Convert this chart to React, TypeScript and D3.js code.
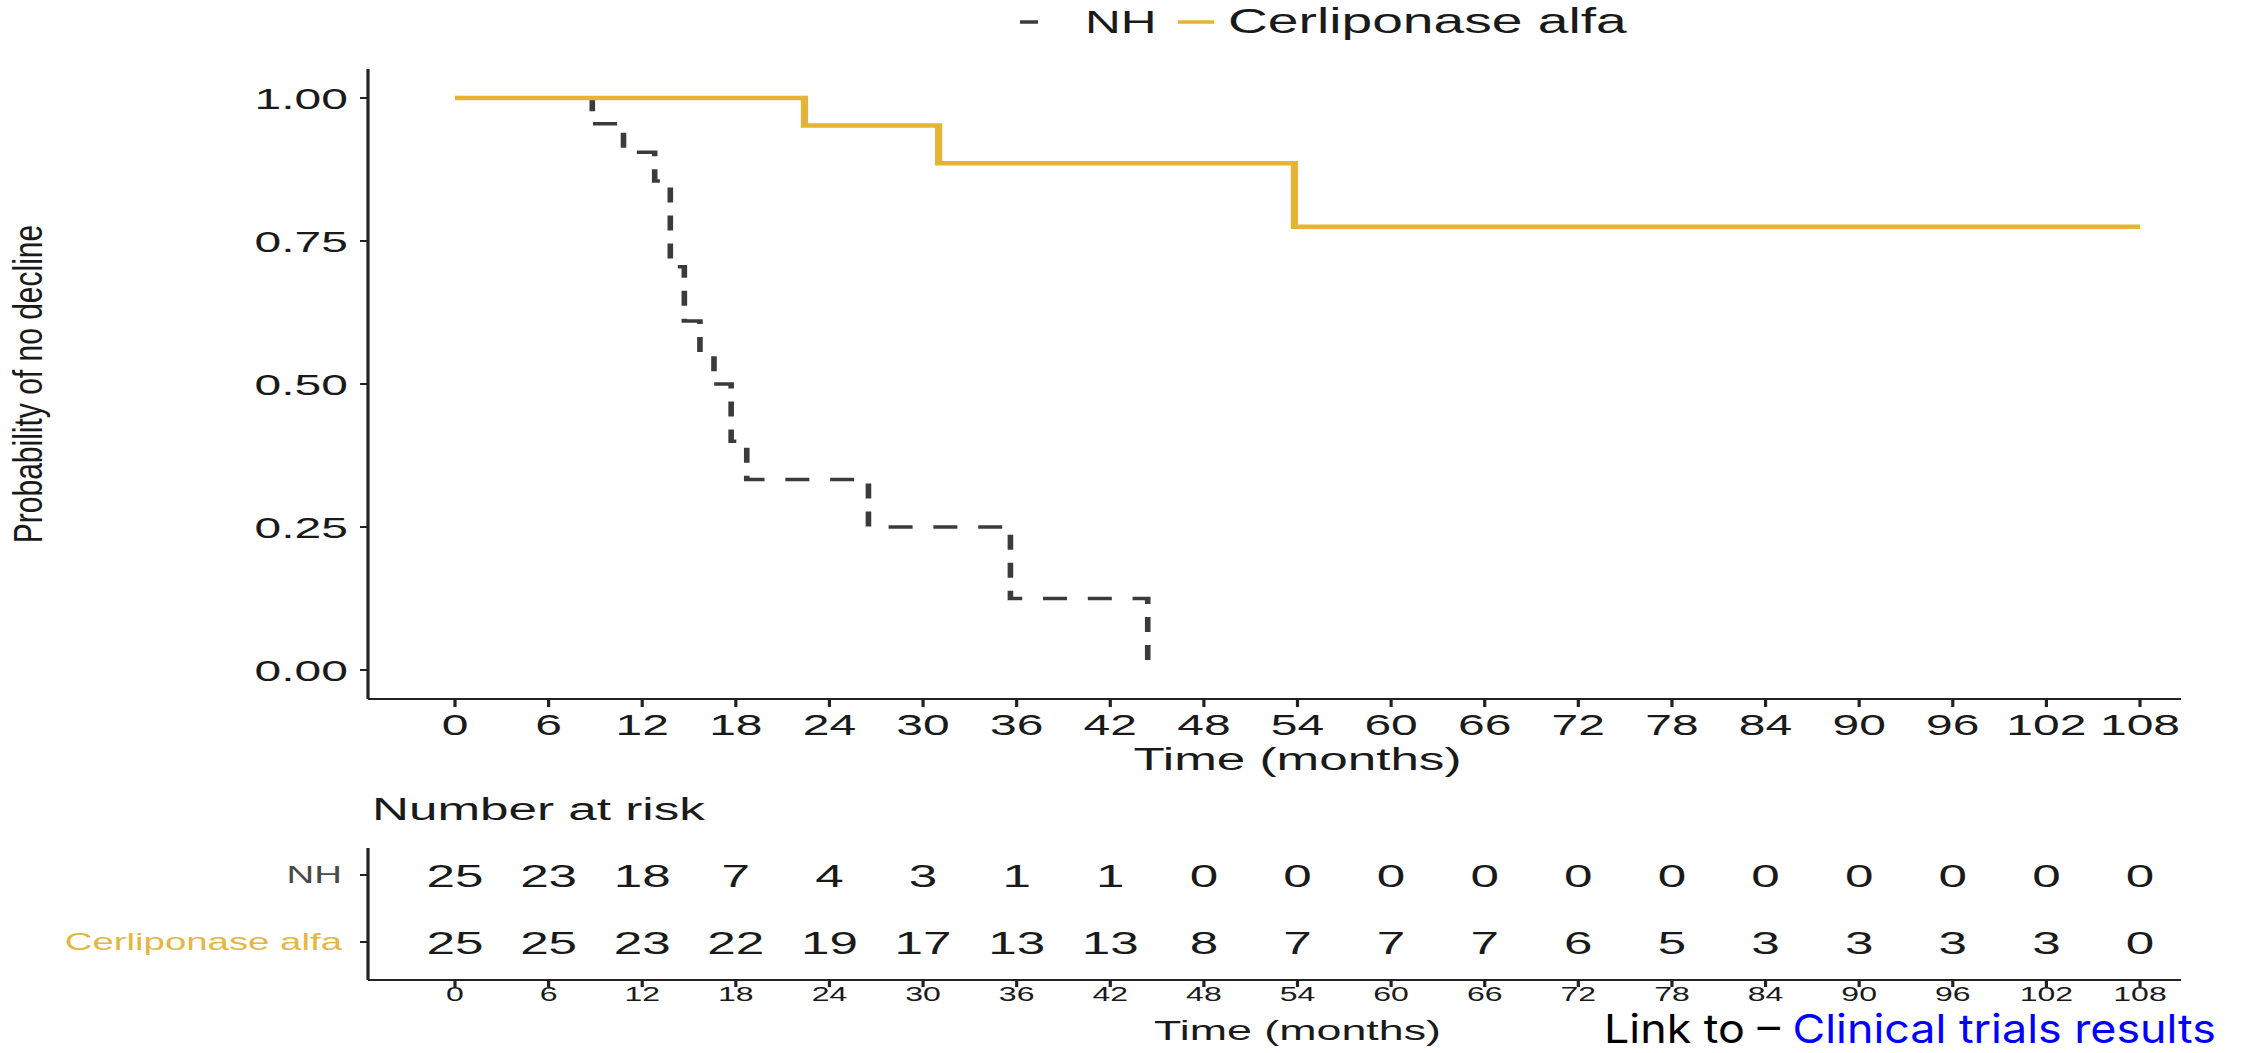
import React from "react";
import * as d3 from "d3";

// whole picture is stretched horizontally, so draw in a narrower space and scale x
const SX = 1.6;
const W = 2264;
const H = 1053;

const groups = ["NH", "Cerliponase alfa"];
const groupColors = ["#3b3b3b", "#E5B336"];

// KM steps: [month, probability]
const nhSteps: [number, number][] = [
  [0, 1], [8.8, 0.955], [10.8, 0.905], [12.8, 0.855], [13.8, 0.705],
  [14.7, 0.61], [15.7, 0.555], [16.6, 0.5], [17.7, 0.4], [18.7, 0.333],
  [26.5, 0.25], [35.6, 0.125], [44.4, 0.0],
];
const cerliSteps: [number, number][] = [
  [0, 1], [22.4, 0.952], [31.0, 0.886], [53.8, 0.775], [108, 0.775],
];

const timeTicks = [0, 6, 12, 18, 24, 30, 36, 42, 48, 54, 60, 66, 72, 78, 84, 90, 96, 102, 108];
const probTicks = [0, 0.25, 0.5, 0.75, 1];
const probLabels = ["0.00", "0.25", "0.50", "0.75", "1.00"];

const nhAtRisk = [25, 23, 18, 7, 4, 3, 1, 1, 0, 0, 0, 0, 0, 0, 0, 0, 0, 0, 0];
const cerliAtRisk = [25, 25, 23, 22, 19, 17, 13, 13, 8, 7, 7, 7, 6, 5, 3, 3, 3, 3, 0];

const FONT = "'Liberation Sans', Arial, Helvetica, sans-serif";

export default function App() {
  const ix = (fx: number) => fx / SX;

  const x = d3.scaleLinear().domain([0, 108]).range([ix(455), ix(2140)]);
  const y = d3.scaleLinear().domain([0, 1]).range([670, 98]);

  const line = d3
    .line<[number, number]>()
    .x((d) => x(d[0]))
    .y((d) => y(d[1]))
    .curve(d3.curveStepAfter);

  const axisLeft = ix(368);
  const axisRight = ix(2181);
  const mainTop = 69;
  const mainBottom = 699;

  const riskTop = 848;
  const riskBottom = 980;
  const riskRows = [875, 942];

  return (
    <svg
      width={W}
      height={H}
      style={{ position: "absolute", left: 0, top: 0, background: "#fff" }}
      fontFamily={FONT}
    >
      <g transform={`scale(${SX},1)`}>
        {/* legend */}
        <line x1={ix(1020)} x2={ix(1038)} y1={22} y2={22} stroke={groupColors[0]} strokeWidth={3.5} />
        <text x={ix(1085)} y={33} fontSize={31} fill="#1a1a1a">{groups[0]}</text>
        <line x1={ix(1178)} x2={ix(1214)} y1={22} y2={22} stroke={groupColors[1]} strokeWidth={3.5} />
        <text x={ix(1228)} y={33} fontSize={34.5} fill="#1a1a1a">{groups[1]}</text>

        {/* main axes */}
        <line x1={axisLeft} x2={axisLeft} y1={mainTop} y2={mainBottom} stroke="#222" strokeWidth={2} />
        <line x1={axisLeft} x2={axisRight} y1={mainBottom} y2={mainBottom} stroke="#222" strokeWidth={2} />
        {probTicks.map((p, i) => (
          <g key={"yt" + i}>
            <line x1={axisLeft - 5} x2={axisLeft} y1={y(p)} y2={y(p)} stroke="#222" strokeWidth={2} />
            <text x={ix(348)} y={y(p) + 11} fontSize={30} textAnchor="end" fill="#1a1a1a">
              {probLabels[i]}
            </text>
          </g>
        ))}
        {timeTicks.map((t) => (
          <g key={"xt" + t}>
            <line x1={x(t)} x2={x(t)} y1={mainBottom} y2={mainBottom + 8} stroke="#222" strokeWidth={2} />
            <text x={x(t)} y={735} fontSize={30} textAnchor="middle" fill="#1a1a1a">{t}</text>
          </g>
        ))}
        <text x={x(54)} y={770} fontSize={32} textAnchor="middle" fill="#1a1a1a">Time (months)</text>

        {/* curves */}
        <path
          d={line(nhSteps) || ""}
          fill="none"
          stroke={groupColors[0]}
          strokeWidth={3.5}
          strokeDasharray="15,13"
        />
        <path d={line(cerliSteps) || ""} fill="none" stroke={groupColors[1]} strokeWidth={4.5} />

        {/* risk table */}
        <text x={ix(372)} y={820} fontSize={32} fill="#1a1a1a">Number at risk</text>
        <line x1={axisLeft} x2={axisLeft} y1={riskTop} y2={riskBottom} stroke="#222" strokeWidth={2} />
        <line x1={axisLeft} x2={axisRight} y1={riskBottom} y2={riskBottom} stroke="#222" strokeWidth={2} />
        {groups.map((g, gi) => (
          <g key={"rl" + g}>
            <line x1={axisLeft - 5} x2={axisLeft} y1={riskRows[gi]} y2={riskRows[gi]} stroke="#222" strokeWidth={2} />
            <text x={ix(342)} y={riskRows[gi] + 8} fontSize={24} textAnchor="end" fill={gi === 0 ? "#4a4a4a" : "#E2B744"}>
              {g}
            </text>
          </g>
        ))}
        {timeTicks.map((t, i) => (
          <g key={"rn" + t}>
            <text x={x(t)} y={riskRows[0] + 12} fontSize={32} textAnchor="middle" fill="#1a1a1a">{nhAtRisk[i]}</text>
            <text x={x(t)} y={riskRows[1] + 12} fontSize={32} textAnchor="middle" fill="#1a1a1a">{cerliAtRisk[i]}</text>
            <line x1={x(t)} x2={x(t)} y1={riskBottom} y2={riskBottom + 7} stroke="#222" strokeWidth={2} />
            <text x={x(t)} y={1001} fontSize={20} textAnchor="middle" fill="#1a1a1a">{t}</text>
          </g>
        ))}
        <text x={x(54)} y={1040} fontSize={28} textAnchor="middle" fill="#1a1a1a">Time (months)</text>
      </g>

      {/* y axis title, less stretched */}
      <text
        transform={`translate(42,384) scale(1.35,1) rotate(-90)`}
        fontSize={30}
        textAnchor="middle"
        fill="#1a1a1a"
      >
        Probability of no decline
      </text>

      {/* footer link */}
      <text x={1604} y={1043} fontSize={40} fontFamily="Inter, 'Noto Sans', sans-serif" textLength={612} lengthAdjust="spacingAndGlyphs">
        <tspan fill="#000">Link to – </tspan>
        <tspan fill="#0000ff">Clinical trials results</tspan>
      </text>
    </svg>
  );
}
